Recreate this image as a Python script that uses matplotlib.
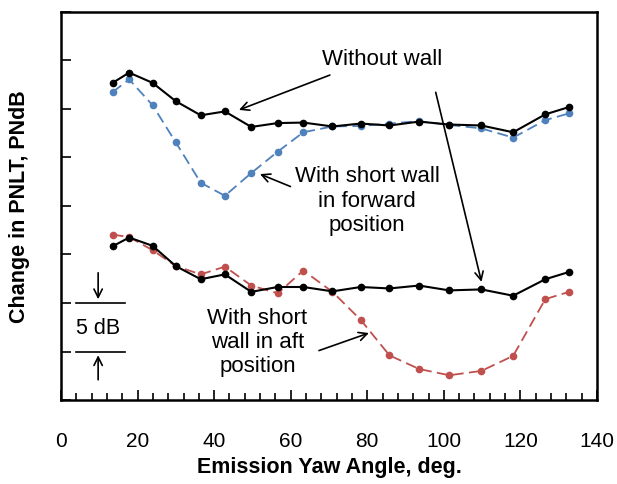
import numpy as np
import matplotlib.pyplot as plt
from matplotlib.ticker import MultipleLocator

plt.rcParams['font.family'] = ['Liberation Sans', 'DejaVu Sans']

# emission yaw angles (deg)
angle = [13.5, 17.8, 23.9, 30.0, 36.5, 42.8, 49.7, 56.6, 63.3, 70.9,
         78.3, 85.8, 93.5, 101.4, 109.8, 118.1, 126.5, 132.7]

# upper pair (forward wall comparison)
no_wall_upper = [32.7, 33.75, 32.7, 30.8, 29.35, 29.75, 28.15, 28.55, 28.6, 28.2,
                 28.5, 28.3, 28.7, 28.4, 28.3, 27.6, 29.45, 30.2]
fwd_wall = [31.75, 33.05, 30.4, 26.55, 22.4, 21.05, 23.4, 25.6, 27.6, 28.2,
            28.25, 28.5, 28.75, 28.35, 28.0, 27.05, 28.85, 29.55]

# lower pair (aft wall comparison)
no_wall_lower = [15.85, 16.75, 15.9, 13.8, 12.45, 12.95, 11.15, 11.65, 11.65, 11.2,
                 11.65, 11.5, 11.8, 11.3, 11.4, 10.75, 12.45, 13.2]
aft_wall = [17.05, 16.8, 15.45, 13.8, 12.95, 13.75, 11.8, 11.0, 13.35, 11.15,
            8.25, 4.6, 3.2, 2.55, 3.0, 4.55, 10.4, 11.15]

blue = '#4F81BD'
red = '#C0504D'

fig = plt.figure(figsize=(6.17, 4.85), dpi=100)
ax = fig.add_axes([61/617, 84/485, 536/617, 388/485])

ax.plot(angle, fwd_wall, color=blue, ls=(0, (6, 3)), lw=1.3, marker='o', ms=4.5, zorder=3)
ax.plot(angle, no_wall_upper, color='black', lw=1.5, marker='o', ms=4.5, zorder=4)
ax.plot(angle, aft_wall, color=red, ls=(0, (6, 3)), lw=1.3, marker='o', ms=4.5, zorder=3)
ax.plot(angle, no_wall_lower, color='black', lw=1.5, marker='o', ms=4.5, zorder=4)

ax.set_xlim(0, 140)
ax.set_ylim(0, 40)
ax.xaxis.set_major_locator(MultipleLocator(20))
ax.xaxis.set_minor_locator(MultipleLocator(4))
ax.yaxis.set_major_locator(MultipleLocator(5))
ax.tick_params(axis='x', which='major', direction='in', length=7, width=1.2, pad=22, labelsize=15)
ax.tick_params(axis='x', which='minor', direction='in', length=5, width=1.2)
ax.tick_params(axis='y', direction='in', length=7, width=1.2, labelleft=False)
for s in ax.spines.values():
    s.set_linewidth(1.8)

ax.set_xlabel('Emission Yaw Angle, deg.', fontsize=15.5, fontweight='bold', labelpad=5)
ax.set_ylabel('Change in PNLT, PNdB', fontsize=15.5, fontweight='bold', labelpad=22)

arrow = dict(arrowstyle='->', color='black', lw=1.2, mutation_scale=15)
txt = dict(fontsize=16, ha='center', va='center', linespacing=1.2)

ax.text(84, 35.2, 'Without wall', **txt)
ax.annotate('', xy=(45.8, 29.8), xytext=(70.9, 33.6), arrowprops=arrow)
ax.annotate('', xy=(110, 11.9), xytext=(97.7, 32.0), arrowprops=arrow)

ax.text(80, 20.6, 'With short wall\nin forward\nposition', **txt)
ax.annotate('', xy=(51.3, 23.4), xytext=(60.6, 21.9), arrowprops=arrow)

ax.text(51.3, 6.0, 'With short\nwall in aft\nposition', **txt)
ax.annotate('', xy=(81.1, 7.0), xytext=(66.7, 5.0), arrowprops=arrow)

# 5 dB scale marker
ax.plot([3.9, 16.7], [10, 10], color='black', lw=1.2)
ax.plot([3.9, 16.7], [5, 5], color='black', lw=1.2)
ax.text(9.6, 7.5, '5 dB', fontsize=15.5, ha='center', va='center')
ax.annotate('', xy=(9.7, 10.1), xytext=(9.7, 13.4), arrowprops=arrow)
ax.annotate('', xy=(9.7, 4.9), xytext=(9.7, 1.8), arrowprops=arrow)

plt.savefig('out.png', dpi=100)
